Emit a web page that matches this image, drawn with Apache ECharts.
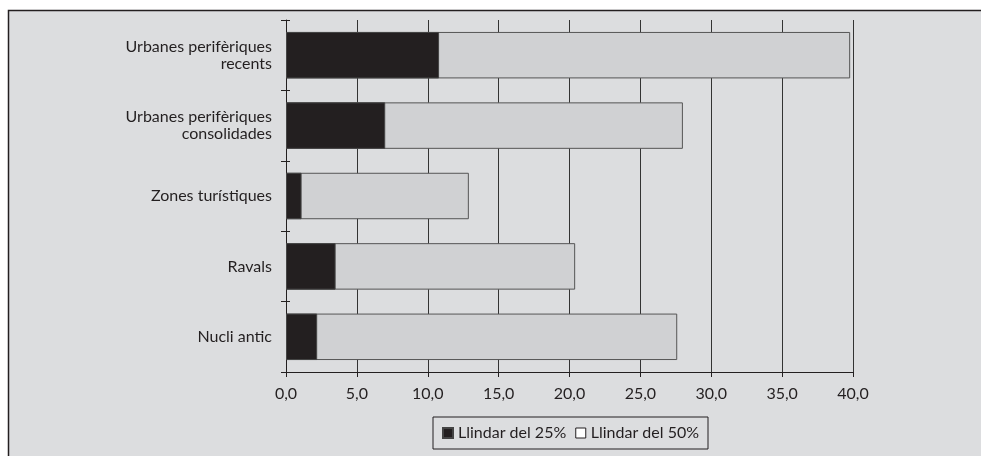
<!DOCTYPE html>
<html><head><meta charset="utf-8">
<script src="https://cdn.jsdelivr.net/npm/echarts@6/dist/echarts.min.js"></script>
<style>html,body{margin:0;padding:0;background:#fff}#c{width:981px;height:456px}</style>
</head><body><div id="c"></div>
<script>
const categories = ['Urbanes perifèriques\nrecents', 'Urbanes perifèriques\nconsolidades', 'Zones turístiques', 'Ravals', 'Nucli antic'];
const llindar25 = [10.8, 7.0, 1.1, 3.5, 2.2];
const llindar50 = [39.8, 28.0, 12.9, 20.4, 27.6];
const xTicks = [0, 5, 10, 15, 20, 25, 30, 35, 40];
const name25 = 'Llindar del 25%';
const name50 = 'Llindar del 50%';

const FONT = 'Lato';
const ink = '#231f20';
const chart = echarts.init(document.getElementById('c'), null, {renderer: 'canvas'});
chart.setOption({
  animation: false,
  textStyle: {fontFamily: FONT},
  graphic: [{
    type: 'rect', z: -10, silent: true,
    shape: {x: 8.5, y: 10.5, width: 990, height: 460},
    style: {fill: '#dcdddf', stroke: ink, lineWidth: 1.5}
  }],
  grid: {left: 286, right: 128, top: 20, bottom: 84, containLabel: false},
  xAxis: {
    type: 'value', min: xTicks[0], max: xTicks[xTicks.length - 1], interval: 5,
    axisLine: {show: true, lineStyle: {color: ink, width: 1}},
    axisTick: {show: true, length: 5, lineStyle: {color: ink}},
    axisLabel: {margin: 14, fontSize: 16, color: ink, fontFamily: FONT,
      formatter: v => v.toFixed(1).replace('.', ',')},
    splitLine: {show: true, lineStyle: {color: '#333', width: 1}}
  },
  yAxis: [{
    type: 'category', data: categories, inverse: true,
    axisLine: {show: true, lineStyle: {color: ink, width: 1}},
    axisTick: {show: true, length: 5, lineStyle: {color: ink}},
    axisLabel: {margin: 14, fontSize: 16, lineHeight: 17, color: ink, align: 'right', fontFamily: FONT},
    splitLine: {show: false}
  }, {
    type: 'category', data: categories, inverse: true, position: 'left',
    axisLine: {show: false},
    axisTick: {show: true, inside: true, length: 4, lineStyle: {color: ink}},
    axisLabel: {show: false}
  }],
  legend: {
    left: 433, top: 417, width: 280,
    data: [
      {name: name25, itemStyle: {color: ink}},
      {name: name50, itemStyle: {color: '#fff', borderColor: ink, borderWidth: 1}}
    ],
    icon: 'rect', itemWidth: 10, itemHeight: 10, itemGap: 9,
    borderColor: ink, borderWidth: 1, padding: [8, 9, 8, 9],
    textStyle: {fontSize: 16, color: ink, fontFamily: FONT}
  },
  series: [{
    name: name50, type: 'bar', data: llindar50, barCategoryGap: '34%', barGap: '-100%',
    itemStyle: {color: '#d0d1d3', borderColor: '#555', borderWidth: 1}, z: 2
  }, {
    name: name25, type: 'bar', data: llindar25, barCategoryGap: '34%', barGap: '-100%',
    itemStyle: {color: ink, borderColor: '#444', borderWidth: 1}, z: 3
  }]
});
</script></body></html>
